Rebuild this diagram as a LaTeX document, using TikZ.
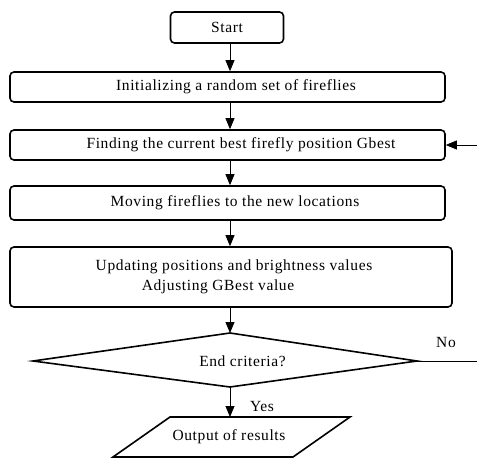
\documentclass[tikz,border=0pt]{standalone}
\usepackage{fontspec}
\setmainfont{Liberation Serif}[LetterSpace=4]
\usetikzlibrary{shapes.geometric,arrows.meta}
\begin{document}
\begin{tikzpicture}[x=1pt,y=-1pt,
  boxst/.style={draw,line width=1.6pt,rounded corners=4pt,font=\fontsize{15.5}{20}\selectfont},
  arr/.style={-{Triangle[length=11pt,width=9pt]},line width=0.8pt},
  lbl/.style={font=\fontsize{15.5}{18}\selectfont}]
\useasboundingbox (0,0) rectangle (477,460);
\node[boxst,minimum width=113pt,minimum height=31pt] (start) at (227,27.5) {Start};
\node[boxst,minimum width=435pt,minimum height=30pt] (init) at (227.5,87) {\hspace*{17pt}Initializing a random set of fireflies};
\node[boxst,minimum width=435pt,minimum height=30pt] (find) at (227.5,145) {\hspace*{27pt}Finding the current best firefly position Gbest};
\node[boxst,minimum width=435pt,minimum height=34pt] (move) at (227.5,203) {\hspace*{15pt}Moving fireflies to the new locations};
\node[boxst,minimum width=442pt,minimum height=60pt,align=center] (upd) at (231,277) {\hspace*{6pt}Updating positions and brightness values\\ \hspace*{-26pt}Adjusting GBest value};
\draw[line width=1.6pt] (33,361) -- (230,333) -- (417,361) -- (230,387) -- cycle;
\node[lbl] (dia) at (242.5,361) {End criteria?};
\coordinate (dtop) at (230,333);
\coordinate (dbot) at (230,387);
\coordinate (deast) at (417,361);
\draw[line width=1.6pt] (170,417) -- (350,417) -- (293,457) -- (113,457) -- cycle;
\node[lbl] (out) at (229,437) {Output of results};
\coordinate (otop) at (230,417);
\coordinate (fin) at (477,145);
\coordinate (nofree) at (477,361);
\draw[arr] (start.south -| 230,0) -- (init.north -| 230,0);
\draw[arr] (init.south -| 230,0) -- (find.north -| 230,0);
\draw[arr] (find.south -| 230,0) -- (move.north -| 230,0);
\draw[arr] (move.south -| 230,0) -- (upd.north -| 230,0);
\draw[arr] (upd.south -| 230,0) -- (dtop);
\draw[arr] (dbot) -- (otop);
\draw[arr] (fin) -- (find.east);
\draw[line width=0.8pt] (deast) -- (nofree);
\node[lbl] (no) at (446,342) {No};
\node[lbl] (yes) at (262,406) {Yes};
\end{tikzpicture}
\end{document}
